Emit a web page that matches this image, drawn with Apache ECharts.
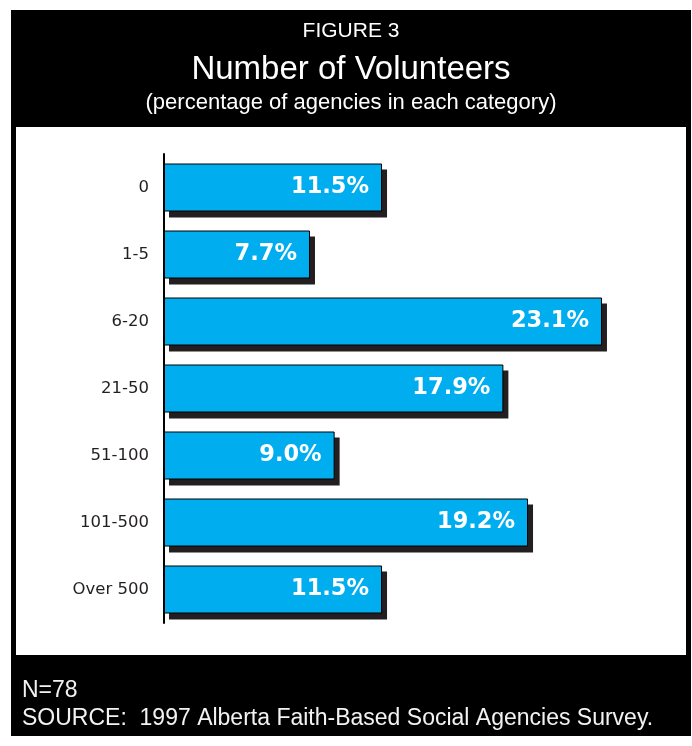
<!DOCTYPE html>
<html>
<head>
<meta charset="utf-8">
<style>
  html, body { margin: 0; padding: 0; background: #ffffff; }
  #chart { width: 692px; height: 746px; }
</style>
<script src="https://cdn.jsdelivr.net/npm/echarts@6/dist/echarts.min.js"></script>
</head>
<body>
<div id="chart"></div>
<script>
// Number of volunteers per agency, share of agencies (%)
const categories = ['0', '1-5', '6-20', '21-50', '51-100', '101-500', 'Over 500'];
const percentages = [11.5, 7.7, 23.1, 17.9, 9.0, 19.2, 11.5];

const figureLabel = 'FIGURE 3';
const titleText = 'Number of Volunteers';
const subtitleText = '(percentage of agencies in each category)';
const noteText = 'N=78';
const sourceText = 'SOURCE:  1997 Alberta Faith-Based Social Agencies Survey.';

const chart = echarts.init(document.getElementById('chart'), null, { renderer: 'canvas' });

const headFont = '"Liberation Sans", Arial, Helvetica, sans-serif';
const bodyFont = '"DejaVu Sans", Verdana, sans-serif';

const BAR_W = 48;
const SHADOW_DX = 5;
const SHADOW_DY = 6;

// Solid drop shadow drawn behind each bar, positioned from the same scales
function renderShadow(params, api) {
  const idx = api.value(0);
  const val = api.value(1);
  const start = api.coord([0, idx]);
  const end = api.coord([val, idx]);
  return {
    type: 'rect',
    shape: {
      x: start[0] + SHADOW_DX,
      y: start[1] - BAR_W / 2 + SHADOW_DY,
      width: end[0] - start[0],
      height: BAR_W
    },
    style: { fill: '#231f20' },
    silent: true
  };
}

chart.setOption({
  backgroundColor: '#ffffff',
  animation: false,
  graphic: [
    // black frame
    { type: 'rect', z: -10, silent: true,
      shape: { x: 11, y: 10, width: 680, height: 726 },
      style: { fill: '#000000' } },
    // white plot panel
    { type: 'rect', z: -9, silent: true,
      shape: { x: 16, y: 127, width: 670, height: 528 },
      style: { fill: '#ffffff' } },
    { type: 'text', z: 10, silent: true,
      style: { x: 351, y: 42, text: figureLabel, textAlign: 'center', textVerticalAlign: 'bottom',
               fill: '#ffffff', font: '21px ' + headFont } },
    { type: 'text', z: 10, silent: true,
      style: { x: 351, y: 86, text: titleText, textAlign: 'center', textVerticalAlign: 'bottom',
               fill: '#ffffff', font: '33px ' + headFont } },
    { type: 'text', z: 10, silent: true,
      style: { x: 351, y: 114, text: subtitleText, textAlign: 'center', textVerticalAlign: 'bottom',
               fill: '#ffffff', font: '22px ' + headFont } },
    { type: 'text', z: 10, silent: true,
      style: { x: 22, y: 702, text: noteText, textAlign: 'left', textVerticalAlign: 'bottom',
               fill: '#f2f2f2', font: '23px ' + headFont } },
    { type: 'text', z: 10, silent: true,
      style: { x: 22, y: 730, text: sourceText, textAlign: 'left', textVerticalAlign: 'bottom',
               fill: '#f2f2f2', font: '23px ' + headFont } }
  ],
  grid: { left: 164, top: 154, right: 54, bottom: 123, containLabel: false },
  xAxis: {
    type: 'value', min: 0, max: 25, show: false
  },
  yAxis: {
    type: 'category',
    data: categories,
    inverse: true,
    z: 5,
    axisLine: { show: true, lineStyle: { color: '#000000', width: 2 } },
    axisTick: { show: false },
    axisLabel: { margin: 15, color: '#231f20', fontFamily: bodyFont, fontSize: 16.5 }
  },
  series: [
    {
      type: 'custom',
      renderItem: renderShadow,
      data: percentages.map((v, i) => [i, v]),
      encode: { x: 1, y: 0 },
      z: 1
    },
    {
      type: 'bar',
      data: percentages,
      barWidth: BAR_W,
      z: 2,
      itemStyle: {
        color: '#00aeef',
        borderColor: '#000000',
        borderWidth: 1
      },
      label: {
        show: true,
        position: 'insideRight',
        distance: 13,
        formatter: p => p.value.toFixed(1) + '%',
        color: '#ffffff',
        fontFamily: bodyFont,
        fontWeight: 'bold',
        fontSize: 22.5
      }
    }
  ]
});
</script>
</body>
</html>
